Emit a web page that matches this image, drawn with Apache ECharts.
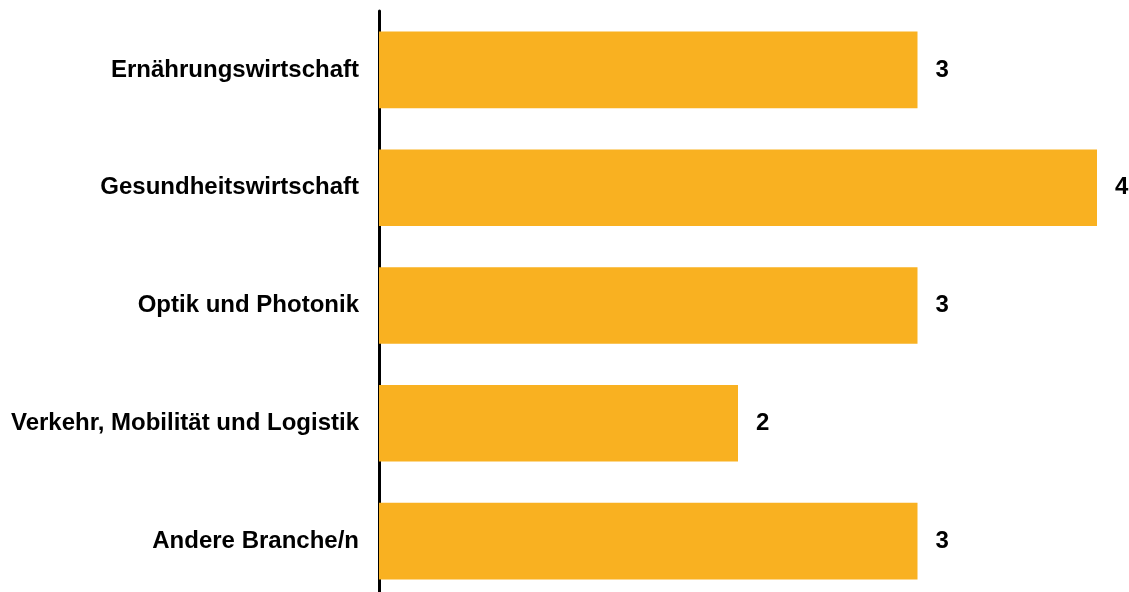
<!DOCTYPE html>
<html>
<head>
<meta charset="utf-8">
<script src="https://cdn.jsdelivr.net/npm/echarts@6/dist/echarts.min.js"></script>
<style>
  html, body { margin: 0; padding: 0; background: #fff; overflow: hidden; }
  #main { width: 1129px; height: 600px; }
</style>
</head>
<body>
<div id="main"></div>
<script>
// Branchen und Anzahl
const categories = [
  'Ernährungswirtschaft',
  'Gesundheitswirtschaft',
  'Optik und Photonik',
  'Verkehr, Mobilität und Logistik',
  'Andere Branche/n'
];
const values = [3, 4, 3, 2, 3];

let myChart = echarts.init(document.getElementById('main'));
let option = {
  animation: false,
  grid: {
    left: 379,
    top: 11,
    width: 718,
    bottom: 0
  },
  xAxis: {
    type: 'value',
    min: 0,
    max: 4,
    show: false
  },
  yAxis: {
    type: 'category',
    data: categories,
    inverse: true,
    axisTick: { show: false },
    axisLine: { lineStyle: { color: '#000', width: 3 } },
    axisLabel: {
      margin: 20,
      color: '#000',
      fontFamily: 'Liberation Sans, Arial, sans-serif',
      fontWeight: 'bold',
      fontSize: 24
    }
  },
  series: [{
    type: 'bar',
    data: values,
    barCategoryGap: '35%',
    itemStyle: { color: '#F9B121' },
    label: {
      show: true,
      position: 'right',
      distance: 18,
      color: '#000',
      fontFamily: 'Liberation Sans, Arial, sans-serif',
      fontWeight: 'bold',
      fontSize: 24
    }
  }]
};
myChart.setOption(option);
</script>
</body>
</html>
